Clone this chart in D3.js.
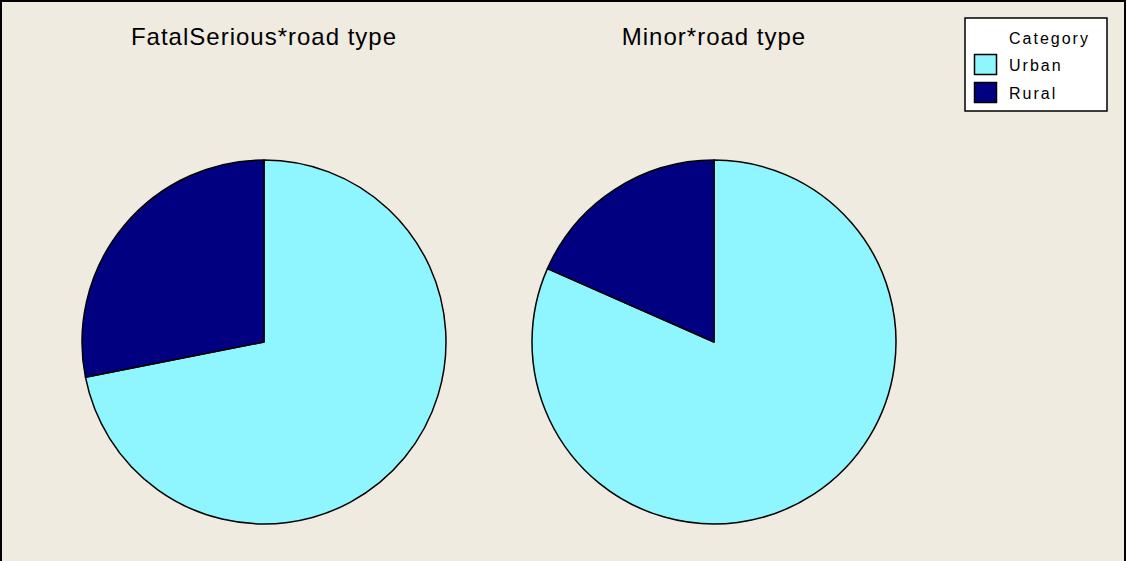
<!DOCTYPE html>
<html>
<head>
<meta charset="utf-8">
<script src="https://cdn.jsdelivr.net/npm/d3@7"></script>
<style>
    body { margin: 0; background: #ffffff; }
    svg text { font-family: Tahoma, "Liberation Sans", Arial, sans-serif; fill: #000; }
</style>
</head>
<body>
<div id="chart"></div>
<script>
// Chart data
const categories = ["Urban", "Rural"];
const colors = ["#8FF5FF", "#000080"];
const titles = ["FatalSerious*road type", "Minor*road type"];
const fatalSeriousValues = [71.9, 28.1];
const minorValues = [81.6, 18.4];
const legendTitle = "Category";

function drawChart() {
    const width = 1127;
    const height = 561;

    const svg = d3.select("#chart")
        .append("svg")
        .attr("width", width)
        .attr("height", height);

    // Background panel with frame
    svg.append("rect")
        .attr("x", 1)
        .attr("y", 1)
        .attr("width", width - 3)
        .attr("height", height + 5)
        .style("fill", "#EFEBE1")
        .style("stroke", "#000")
        .style("stroke-width", 2);

    const color = d3.scaleOrdinal().domain(categories).range(colors);
    const radius = 182;
    const centers = d3.scalePoint().domain(titles).range([264, 714]);

    const pie = d3.pie()
        .sort(null)
        .value(d => d.value);

    const arc = d3.arc()
        .innerRadius(0)
        .outerRadius(radius);

    const series = [fatalSeriousValues, minorValues];

    series.forEach((values, i) => {
        const data = categories.map((c, j) => ({ category: c, value: values[j] }));
        const cx = centers(titles[i]);

        const g = svg.append("g")
            .attr("transform", `translate(${cx},342)`);

        // Urban starts at 12 o'clock and runs clockwise
        g.selectAll("path")
            .data(pie(data))
            .join("path")
            .attr("d", arc)
            .style("fill", d => color(d.data.category))
            .style("stroke", "#000")
            .style("stroke-width", 1.5)
            .style("stroke-linejoin", "round");

        svg.append("text")
            .attr("x", cx)
            .attr("y", 45)
            .attr("text-anchor", "middle")
            .style("font-size", "24px")
            .style("letter-spacing", "1px")
            .text(titles[i]);
    });

    // Legend
    const legend = svg.append("g")
        .attr("transform", "translate(965,18)");

    legend.append("rect")
        .attr("width", 142)
        .attr("height", 93)
        .style("fill", "#fff")
        .style("stroke", "#000")
        .style("stroke-width", 1.5);

    legend.append("text")
        .attr("x", 44)
        .attr("y", 26)
        .style("font-size", "16px")
        .style("letter-spacing", "2px")
        .text(legendTitle);

    const items = legend.selectAll("g.item")
        .data(categories)
        .join("g")
        .attr("class", "item")
        .attr("transform", (d, i) => `translate(0,${36 + i * 28})`);

    items.append("rect")
        .attr("x", 9.5)
        .attr("y", 0.5)
        .attr("width", 22)
        .attr("height", 20)
        .style("fill", d => color(d))
        .style("stroke", "#000")
        .style("stroke-width", 1.5);

    items.append("text")
        .attr("x", 44)
        .attr("y", 17)
        .style("font-size", "16px")
        .style("letter-spacing", "2px")
        .text(d => d);
}

drawChart();
</script>
</body>
</html>
